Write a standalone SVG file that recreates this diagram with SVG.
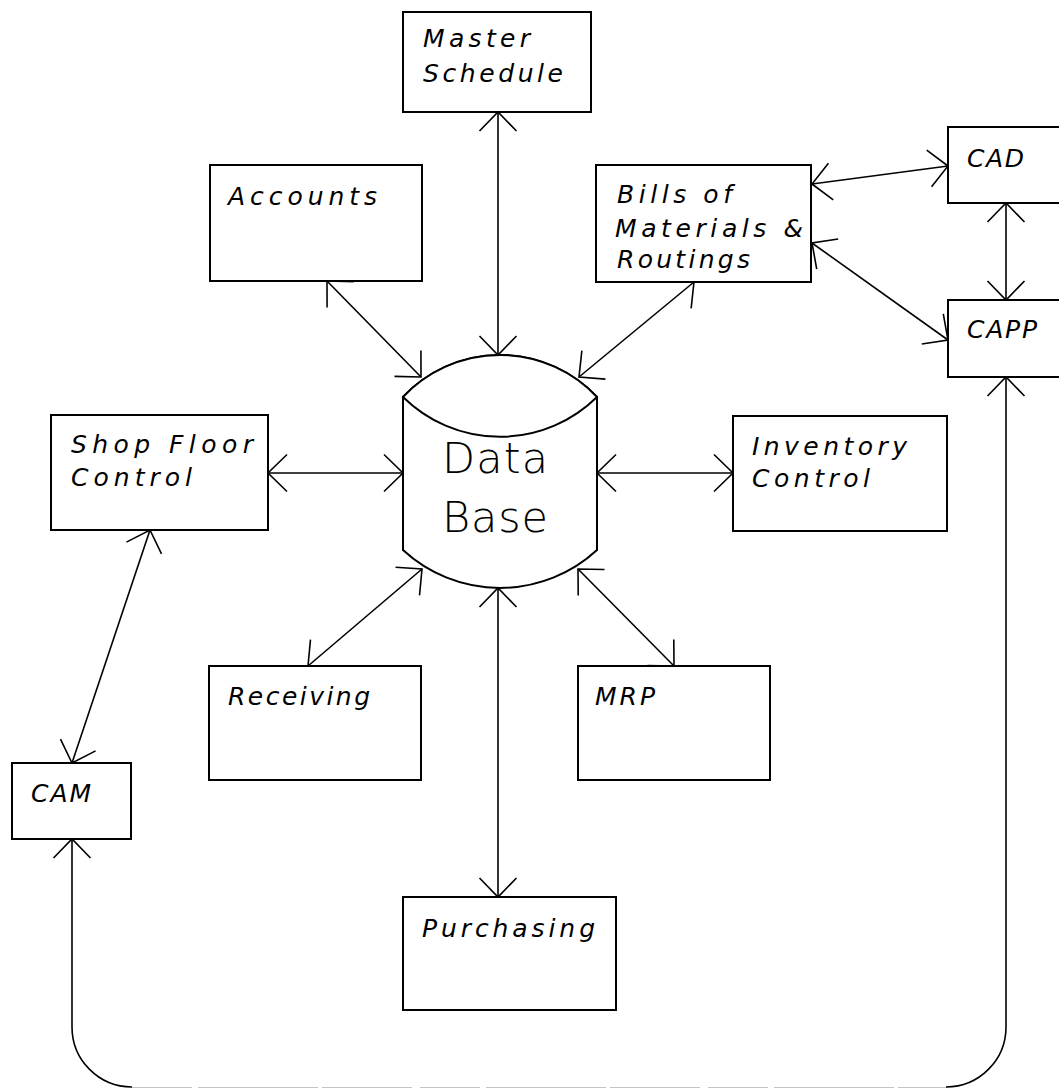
<svg xmlns="http://www.w3.org/2000/svg" width="1059" height="1089" viewBox="0 0 1059 1089">
  <style>
    .box { fill: #fff; stroke: #000; stroke-width: 2; }
    .lbl { font-family: "DejaVu Sans", "Liberation Sans", sans-serif; font-style: oblique; font-weight: 200; font-size: 25px; fill: #000; }
    .db { font-family: "DejaVu Sans", "Liberation Sans", sans-serif; font-weight: 200; font-size: 43px; fill: #000; }
    .wire { fill: none; stroke: #000; stroke-width: 1.6; marker-start: url(#head); marker-end: url(#head); }
    .cyl { fill: #fff; stroke: #000; stroke-width: 2; }
  </style>
  <defs>
    <!-- open V arrowhead, tip at the line end -->
    <marker id="head" markerUnits="userSpaceOnUse" markerWidth="40" markerHeight="40" viewBox="-30 -20 32 40" refX="0" refY="0" orient="auto-start-reverse">
      <path d="M-19,-18.5 L0,0 L-19,18.5" fill="none" stroke="#000" stroke-width="1.6"/>
    </marker>
  </defs>
  <rect width="1059" height="1089" fill="#fff"/>

  <g id="connectors">
    <path class="wire" d="M498,112 V355"/>
    <path class="wire" d="M327,281 L421,377"/>
    <path class="wire" d="M694,282 L579,377"/>
    <path class="wire" d="M812,184 L948,166"/>
    <path class="wire" d="M812,243 L948,340"/>
    <path class="wire" d="M1006,203 V300"/>
    <path class="wire" d="M268,473 H403"/>
    <path class="wire" d="M597,473 H733"/>
    <path class="wire" d="M150,530 L72,763"/>
    <path class="wire" d="M422,569 L308,666"/>
    <path class="wire" d="M498,588 V897"/>
    <path class="wire" d="M578,569 L674,666"/>
    <g id="loop">
      <path d="M72,839 V1027 A60,60 0 0 0 132,1087" fill="none" stroke="#000" stroke-width="1.6" marker-start="url(#head)"/>
      <path d="M132,1087.5 H946" fill="none" stroke="#c4c4c4" stroke-width="1.2" stroke-dasharray="60 6 120 4 90 8"/>
      <path d="M946,1087 A60,60 0 0 0 1006,1027 V377" fill="none" stroke="#000" stroke-width="1.6" marker-end="url(#head)"/>
    </g>
  </g>

  <g id="database">
    <path class="cyl" d="M403,397 V550 A143,143 0 0 0 597,550 V397 A133,133 0 0 0 403,397 Z"/>
    <path class="cyl" d="M403,397 A133,133 0 0 1 597,397 A138,138 0 0 1 403,397 Z"/>
    <text class="db" x="442" y="473" textLength="106" lengthAdjust="spacing">Data</text>
    <text class="db" x="442" y="532" textLength="106" lengthAdjust="spacing">Base</text>
  </g>

  <g id="master-schedule">
    <rect class="box" x="403" y="12" width="188" height="100"/>
    <text class="lbl" x="423" y="47" textLength="107" lengthAdjust="spacing">Master</text>
    <text class="lbl" x="423" y="82" textLength="140" lengthAdjust="spacing">Schedule</text>
  </g>

  <g id="accounts">
    <rect class="box" x="210" y="165" width="212" height="116"/>
    <text class="lbl" x="228" y="205" textLength="149" lengthAdjust="spacing">Accounts</text>
  </g>

  <g id="bills">
    <rect class="box" x="596" y="165" width="215" height="117"/>
    <text class="lbl" x="617" y="203" textLength="115" lengthAdjust="spacing">Bills of</text>
    <text class="lbl" x="615" y="237" textLength="188" lengthAdjust="spacing">Materials &amp;</text>
    <text class="lbl" x="617" y="268" textLength="133" lengthAdjust="spacing">Routings</text>
  </g>

  <g id="cad">
    <rect class="box" x="948" y="127" width="130" height="76"/>
    <text class="lbl" x="967" y="167" textLength="57" lengthAdjust="spacing">CAD</text>
  </g>

  <g id="capp">
    <rect class="box" x="948" y="300" width="130" height="77"/>
    <text class="lbl" x="967" y="338" textLength="70" lengthAdjust="spacing">CAPP</text>
  </g>

  <g id="shop-floor-control">
    <rect class="box" x="51" y="415" width="217" height="115"/>
    <text class="lbl" x="71" y="453" textLength="182" lengthAdjust="spacing">Shop Floor</text>
    <text class="lbl" x="71" y="486" textLength="121" lengthAdjust="spacing">Control</text>
  </g>

  <g id="inventory-control">
    <rect class="box" x="733" y="416" width="214" height="115"/>
    <text class="lbl" x="752" y="455" textLength="155" lengthAdjust="spacing">Inventory</text>
    <text class="lbl" x="752" y="487" textLength="118" lengthAdjust="spacing">Control</text>
  </g>

  <g id="receiving">
    <rect class="box" x="209" y="666" width="212" height="114"/>
    <text class="lbl" x="228" y="705" textLength="142" lengthAdjust="spacing">Receiving</text>
  </g>

  <g id="mrp">
    <rect class="box" x="578" y="666" width="192" height="114"/>
    <text class="lbl" x="595" y="705" textLength="60" lengthAdjust="spacing">MRP</text>
  </g>

  <g id="cam">
    <rect class="box" x="12" y="763" width="119" height="76"/>
    <text class="lbl" x="31" y="802" textLength="60" lengthAdjust="spacing">CAM</text>
  </g>

  <g id="purchasing">
    <rect class="box" x="403" y="897" width="213" height="113"/>
    <text class="lbl" x="422" y="937" textLength="173" lengthAdjust="spacing">Purchasing</text>
  </g>
</svg>
